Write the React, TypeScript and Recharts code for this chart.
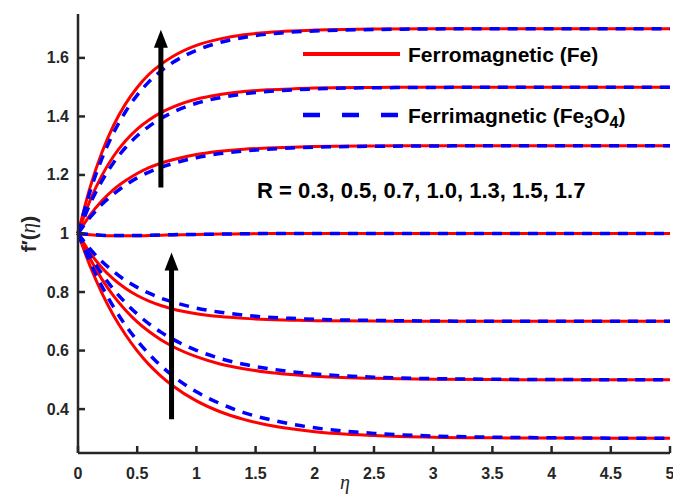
import React from 'react';
import { LineChart, Line, XAxis, YAxis, ReferenceLine } from 'recharts';

// eta grid used for all curves
const eta = [0, 0.1, 0.2, 0.3, 0.4, 0.5, 0.6, 0.7, 0.8, 1.0, 1.2, 1.4, 1.6, 1.8, 2.0, 2.5, 3, 3.5, 4, 5];

// Ferromagnetic (Fe) - solid red
const feR17 = [1, 1.155, 1.275, 1.369, 1.442, 1.499, 1.544, 1.578, 1.605, 1.643, 1.665, 1.679, 1.687, 1.692, 1.695, 1.699, 1.7, 1.7, 1.7, 1.7];
const feR15 = [1, 1.111, 1.197, 1.264, 1.316, 1.357, 1.388, 1.413, 1.432, 1.459, 1.475, 1.485, 1.491, 1.494, 1.497, 1.499, 1.5, 1.5, 1.5, 1.5];
const feR13 = [1, 1.062, 1.111, 1.15, 1.18, 1.205, 1.225, 1.24, 1.252, 1.27, 1.281, 1.288, 1.292, 1.295, 1.297, 1.299, 1.3, 1.3, 1.3, 1.3];
const feR10 = [1, 0.996, 0.993, 0.992, 0.992, 0.992, 0.993, 0.994, 0.995, 0.997, 0.998, 0.999, 1, 1, 1, 1, 1, 1, 1, 1];
const feR07 = [1, 0.935, 0.884, 0.844, 0.813, 0.788, 0.769, 0.754, 0.742, 0.726, 0.716, 0.71, 0.706, 0.704, 0.702, 0.701, 0.7, 0.7, 0.7, 0.7];
const feR05 = [1, 0.916, 0.845, 0.787, 0.739, 0.698, 0.665, 0.637, 0.614, 0.579, 0.554, 0.538, 0.526, 0.518, 0.512, 0.505, 0.502, 0.501, 0.5, 0.5];
const feR03 = [1, 0.891, 0.798, 0.72, 0.655, 0.599, 0.552, 0.513, 0.48, 0.428, 0.391, 0.365, 0.346, 0.333, 0.323, 0.31, 0.304, 0.302, 0.301, 0.3];

// Ferrimagnetic (Fe3O4) - dashed blue
const fmR17 = [1, 1.141, 1.254, 1.344, 1.415, 1.473, 1.519, 1.555, 1.584, 1.626, 1.653, 1.67, 1.681, 1.688, 1.692, 1.697, 1.699, 1.7, 1.7, 1.7];
const fmR15 = [1, 1.099, 1.178, 1.242, 1.293, 1.334, 1.366, 1.393, 1.414, 1.445, 1.464, 1.477, 1.485, 1.49, 1.494, 1.498, 1.499, 1.5, 1.5, 1.5];
const fmR13 = [1, 1.054, 1.099, 1.135, 1.165, 1.19, 1.21, 1.226, 1.239, 1.259, 1.273, 1.282, 1.288, 1.292, 1.295, 1.298, 1.299, 1.3, 1.3, 1.3];
const fmR10 = [1, 0.997, 0.994, 0.993, 0.993, 0.993, 0.994, 0.995, 0.996, 0.997, 0.998, 0.999, 1, 1, 1, 1, 1, 1, 1, 1];
const fmR07 = [1, 0.948, 0.905, 0.87, 0.84, 0.816, 0.796, 0.779, 0.766, 0.745, 0.731, 0.721, 0.714, 0.71, 0.707, 0.703, 0.701, 0.7, 0.7, 0.7];
const fmR05 = [1, 0.926, 0.863, 0.809, 0.764, 0.725, 0.691, 0.663, 0.639, 0.601, 0.573, 0.553, 0.539, 0.528, 0.52, 0.509, 0.504, 0.502, 0.501, 0.5];
const fmR03 = [1, 0.904, 0.821, 0.749, 0.687, 0.634, 0.588, 0.548, 0.514, 0.459, 0.419, 0.388, 0.366, 0.349, 0.336, 0.317, 0.308, 0.304, 0.302, 0.3];

const xTicks = [0, 0.5, 1, 1.5, 2, 2.5, 3, 3.5, 4, 4.5, 5];
const yTicks = [0.4, 0.6, 0.8, 1, 1.2, 1.4, 1.6];

// arrows (data coordinates): [x, yStart, yEnd]
const arrowUpper = [0.7, 1.157, 1.696];
const arrowLower = [0.79, 0.365, 0.935];

const feSeries = [feR17, feR15, feR13, feR10, feR07, feR05, feR03];
const fmSeries = [fmR17, fmR15, fmR13, fmR10, fmR07, fmR05, fmR03];

const data = eta.map((e, i) => {
  const row: Record<string, number> = { eta: e };
  feSeries.forEach((s, k) => (row[`fe${k}`] = s[i]));
  fmSeries.forEach((s, k) => (row[`fm${k}`] = s[i]));
  return row;
});

const AXIS = '#262626';
const FONT = '"Liberation Sans", Arial, sans-serif';

const BottomTick = (props: any) => {
  const { x, y, payload } = props;
  return (
    <g>
      <line x1={x} y1={y} x2={x} y2={y - 7} stroke={AXIS} strokeWidth={2.5} />
      <text x={x} y={y + 20} textAnchor="middle" dominantBaseline="central" fontFamily={FONT} fontWeight="bold" fontSize={16} fill={AXIS}>
        {payload.value}
      </text>
    </g>
  );
};

const TopTick = (props: any) => {
  const { x, y } = props;
  return <line x1={x} y1={y} x2={x} y2={y + 7} stroke={AXIS} strokeWidth={2.5} />;
};

const LeftTick = (props: any) => {
  const { x, y, payload } = props;
  return (
    <g>
      <line x1={x} y1={y} x2={x + 7} y2={y} stroke={AXIS} strokeWidth={2.5} />
      <text x={x - 9} y={y} textAnchor="end" dominantBaseline="central" fontFamily={FONT} fontWeight="bold" fontSize={16} fill={AXIS}>
        {payload.value}
      </text>
    </g>
  );
};

const RightTick = (props: any) => {
  const { x, y } = props;
  return <line x1={x} y1={y} x2={x - 7} y2={y} stroke={AXIS} strokeWidth={2.5} />;
};

const Arrow = (props: any) => {
  const { x1, y1, x2, y2 } = props;
  const head = 18;
  return (
    <g>
      <line x1={x1} y1={y1} x2={x2} y2={y2 + head - 2} stroke="#000" strokeWidth={5} />
      <polygon points={`${x2},${y2} ${x2 - 7},${y2 + head} ${x2 + 7},${y2 + head}`} fill="#000" />
    </g>
  );
};

export default function App() {
  return (
    <div style={{ position: 'absolute', left: 0, top: 0, width: 673, height: 497, background: '#fff' }}>
      <LineChart width={673} height={497} data={data} margin={{ top: 14, right: 3, bottom: 0, left: 0 }}>
        <XAxis
          dataKey="eta"
          type="number"
          domain={[0, 5]}
          ticks={xTicks}
          interval={0}
          height={44}
          tickSize={0}
          tickMargin={0}
          tick={<BottomTick />}
          axisLine={{ stroke: AXIS, strokeWidth: 2.5 }}
          tickLine={false}
        />
        <XAxis
          xAxisId="top"
          orientation="top"
          dataKey="eta"
          type="number"
          domain={[0, 5]}
          ticks={xTicks}
          interval={0}
          height={0}
          tickSize={0}
          tickMargin={0}
          tick={<TopTick />}
          axisLine={{ stroke: AXIS, strokeWidth: 2.5 }}
          tickLine={false}
        />
        <YAxis
          type="number"
          domain={[0.25, 1.75]}
          ticks={yTicks}
          interval={0}
          width={78}
          tickSize={0}
          tickMargin={0}
          tick={<LeftTick />}
          axisLine={{ stroke: AXIS, strokeWidth: 2.5 }}
          tickLine={false}
          allowDataOverflow
        />
        <YAxis
          yAxisId="right"
          orientation="right"
          type="number"
          domain={[0.25, 1.75]}
          ticks={yTicks}
          interval={0}
          width={0}
          tickSize={0}
          tickMargin={0}
          tick={<RightTick />}
          axisLine={{ stroke: AXIS, strokeWidth: 2.5 }}
          tickLine={false}
          allowDataOverflow
        />
        {feSeries.map((_, k) => (
          <Line key={`fe${k}`} dataKey={`fe${k}`} type="monotone" stroke="#ff0000" strokeWidth={3} dot={false} isAnimationActive={false} />
        ))}
        {fmSeries.map((_, k) => (
          <Line key={`fm${k}`} dataKey={`fm${k}`} type="monotone" stroke="#0000ff" strokeWidth={3.5} strokeDasharray="10 8" dot={false} isAnimationActive={false} />
        ))}
        <ReferenceLine
          segment={[{ x: arrowUpper[0], y: arrowUpper[1] }, { x: arrowUpper[0], y: arrowUpper[2] }]}
          shape={<Arrow />}
        />
        <ReferenceLine
          segment={[{ x: arrowLower[0], y: arrowLower[1] }, { x: arrowLower[0], y: arrowLower[2] }]}
          shape={<Arrow />}
        />
      </LineChart>
      <svg width={673} height={497} style={{ position: 'absolute', left: 0, top: 0, pointerEvents: 'none' }}>
        <line x1={303} y1={54} x2={400} y2={54} stroke="#ff0000" strokeWidth={4} />
        <text x={408} y={54} dominantBaseline="central" fontFamily={FONT} fontWeight="bold" fontSize={21} fill="#000">
          Ferromagnetic (Fe)
        </text>
        <line x1={303} y1={115} x2={400} y2={115} stroke="#0000ff" strokeWidth={4.5} strokeDasharray="17 22" />
        <text x={408} y={115} dominantBaseline="central" fontFamily={FONT} fontWeight="bold" fontSize={21} fill="#000">
          Ferrimagnetic (Fe
          <tspan dy={7} fontSize={16}>3</tspan>
          <tspan dy={-7}>O</tspan>
          <tspan dy={7} fontSize={16}>4</tspan>
          <tspan dy={-7}>)</tspan>
        </text>
        <text x={257} y={190} dominantBaseline="central" fontFamily={FONT} fontWeight="bold" fontSize={22} fill="#000">
          R = 0.3, 0.5, 0.7, 1.0, 1.3, 1.5, 1.7
        </text>
        <text
          x={28}
          y={234}
          transform="rotate(-90 28 234)"
          textAnchor="middle"
          dominantBaseline="central"
          fontFamily={FONT}
          fontWeight="bold"
          fontSize={21}
          fill={AXIS}
        >
          f′(<tspan fontFamily='"Liberation Serif", serif' fontStyle="italic" fontWeight="normal">η</tspan>)
        </text>
        <text x={345} y={482} textAnchor="middle" dominantBaseline="central" fontFamily='"Liberation Serif", serif' fontStyle="italic" fontSize={20} fill={AXIS}>
          η
        </text>
      </svg>
    </div>
  );
}
